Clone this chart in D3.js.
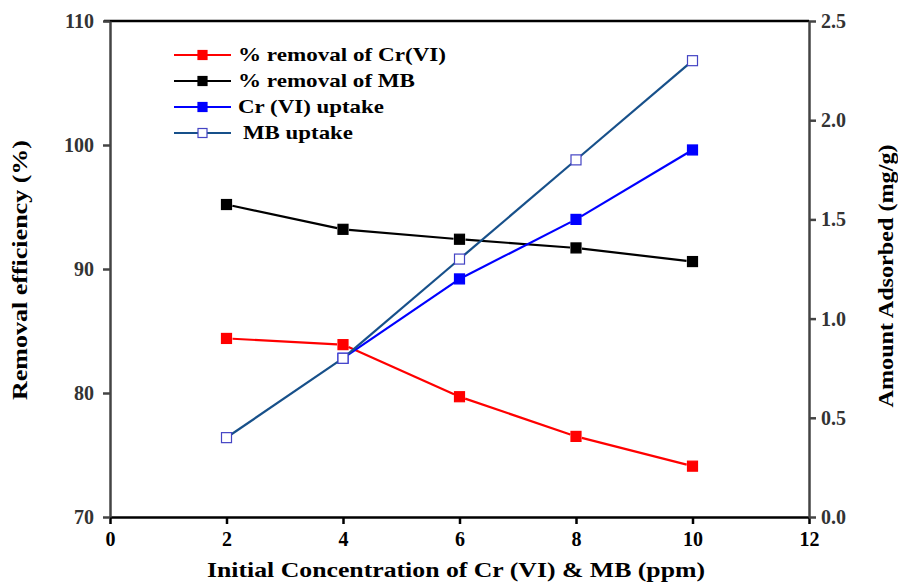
<!DOCTYPE html>
<html>
<head>
<meta charset="utf-8">
<script src="https://cdn.jsdelivr.net/npm/d3@7"></script>
<style>
  body { margin: 0; background: #fff; }
  text { font-family: "Liberation Serif", "Times New Roman", serif; font-weight: bold; }
</style>
</head>
<body>
<div id="main"></div>
<script>
// data
var conc = [2, 4, 6, 8, 10];
var crRemoval = [84.4, 83.9, 79.7, 76.5, 74.1];
var mbRemoval = [95.2, 93.2, 92.4, 91.7, 90.6];
var crUptakeConc = [4, 6, 8, 10];
var crUptake = [0.80, 1.20, 1.50, 1.85];
var mbUptake = [0.40, 0.80, 1.30, 1.80, 2.30];

var xTicks = [0, 2, 4, 6, 8, 10, 12];
var leftTicks = [70, 80, 90, 100, 110];
var rightTicks = [0, 0.5, 1.0, 1.5, 2.0, 2.5];

var W = 898, H = 584;
var m = {left: 110, right: 89, top: 21, bottom: 67};

var svg = d3.select('#main').append('svg').attr('width', W).attr('height', H);

var x = d3.scaleLinear().domain([0, 12]).range([m.left, W - m.right]);
var yL = d3.scaleLinear().domain([70, 110]).range([H - m.bottom, m.top]);
var yR = d3.scaleLinear().domain([0, 2.5]).range([H - m.bottom, m.top]);

// legend text widths measured on the reference (its text is a bit stretched)
var series = [
  {name: '% removal of Cr(VI)', xs: conc, ys: crRemoval, y: yL, color: '#ff0000', fill: '#ff0000', stroke: '#ff0000', tx: 238, tw: 208},
  {name: '% removal of MB', xs: conc, ys: mbRemoval, y: yL, color: '#000000', fill: '#000000', stroke: '#000000', tx: 238, tw: 177},
  {name: 'Cr (VI) uptake', xs: crUptakeConc, ys: crUptake, y: yR, color: '#0000ff', fill: '#0000ff', stroke: '#0000ff', tx: 238, tw: 146},
  {name: 'MB uptake', xs: conc, ys: mbUptake, y: yR, color: '#17508a', fill: '#ffffff', stroke: '#4444c4', tx: 243, tw: 110}
];

// frame: top line
svg.append('line')
  .attr('x1', x(0) - 6).attr('x2', x(12)).attr('y1', m.top).attr('y2', m.top)
  .attr('stroke', '#000').attr('stroke-width', 2.5);

function styleAxis(g, col) {
  g.select('.domain').attr('stroke', col).attr('stroke-width', 2.5);
  g.selectAll('.tick line').attr('stroke', col).attr('stroke-width', 2.5);
  g.selectAll('.tick text').attr('fill', '#333').style('font-size', '20px')
    .style('font-family', '"Liberation Serif", serif').style('font-weight', 'bold');
}

var gx = svg.append('g').attr('transform', 'translate(0,' + (H - m.bottom) + ')')
  .call(d3.axisBottom(x).tickValues(xTicks).tickSize(7).tickSizeOuter(0).tickPadding(8));
styleAxis(gx, '#000');
gx.selectAll('.tick text').attr('fill', '#000');

var gl = svg.append('g').attr('transform', 'translate(' + m.left + ',0)')
  .call(d3.axisLeft(yL).tickValues(leftTicks).tickSize(7).tickSizeOuter(0).tickPadding(9));
styleAxis(gl, '#444');

var gr = svg.append('g').attr('transform', 'translate(' + (W - m.right) + ',0)')
  .call(d3.axisRight(yR).tickValues(rightTicks).tickFormat(d3.format('.1f')).tickSize(7).tickSizeOuter(0).tickPadding(5));
styleAxis(gr, '#444');

// axis titles
function title(t, tr, len) {
  svg.append('text').attr('transform', tr)
    .attr('text-anchor', 'middle').style('font-size', '22px')
    .attr('textLength', len).attr('lengthAdjust', 'spacingAndGlyphs').text(t);
}
title('Initial Concentration of Cr (VI) & MB (ppm)', 'translate(' + 456 + ',577)', 498);
title('Removal efficiency (%)', 'translate(27,270) rotate(-90)', 260);
title('Amount Adsorbed (mg/g)', 'translate(893,276) rotate(-90)', 263);

// lines with small gaps at the markers
var gap = 6;
series.forEach(function(s) {
  var pts = s.xs.map(function(v, i) { return [x(v), s.y(s.ys[i])]; });
  var g = svg.append('g');
  for (var i = 0; i < pts.length - 1; i++) {
    var a = pts[i], b = pts[i + 1];
    var dx = b[0] - a[0], dy = b[1] - a[1], len = Math.sqrt(dx * dx + dy * dy);
    var ux = dx / len, uy = dy / len;
    g.append('line')
      .attr('x1', a[0] + ux * gap).attr('y1', a[1] + uy * gap)
      .attr('x2', b[0] - ux * gap).attr('y2', b[1] - uy * gap)
      .attr('stroke', s.color).attr('stroke-width', 2.2);
  }
  g.selectAll('rect').data(pts).enter().append('rect')
    .attr('x', function(d) { return d[0] - 5; })
    .attr('y', function(d) { return d[1] - 5; })
    .attr('width', 10).attr('height', 10)
    .attr('fill', s.fill).attr('stroke', s.stroke).attr('stroke-width', 1.2);
});

// legend
var leg = svg.append('g');
series.forEach(function(s, i) {
  var ly = 55 + i * 26;
  leg.append('line').attr('x1', 174).attr('x2', 231).attr('y1', ly).attr('y2', ly)
    .attr('stroke', s.color).attr('stroke-width', 2.2);
  leg.append('rect').attr('x', 198).attr('y', ly - 4.5).attr('width', 9).attr('height', 9)
    .attr('fill', s.fill).attr('stroke', s.stroke).attr('stroke-width', 1.2);
  leg.append('text').attr('x', s.tx).attr('y', ly + 6).style('font-size', '19px')
    .attr('textLength', s.tw).attr('lengthAdjust', 'spacingAndGlyphs').text(s.name);
});
</script>
</body>
</html>
